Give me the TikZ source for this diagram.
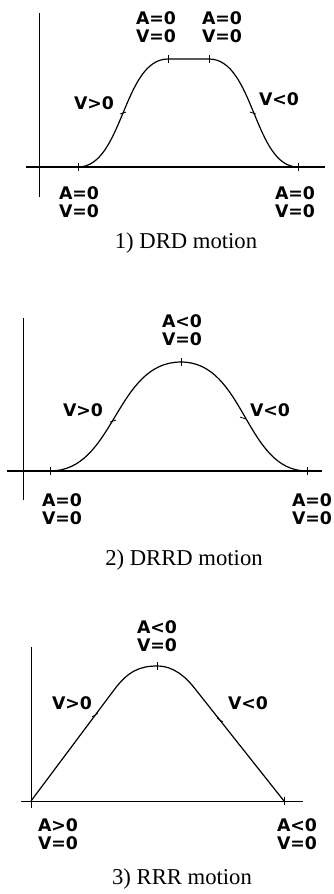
\documentclass[tikz,border=0pt]{standalone}
\usepackage{fontspec}
\setmainfont{Liberation Serif}
\newfontfamily\etifont{DejaVu Sans}
\begin{document}
\begin{tikzpicture}[x=0.75pt,y=0.75pt,
    asse/.style={line width=0.6pt},
    curva/.style={line width=0.9pt},
    tacca/.style={line width=0.6pt},
    eti/.style={font=\etifont\bfseries\fontsize{13}{13.5}\selectfont,align=center,inner sep=0pt},
    didas/.style={font=\fontsize{17}{19}\selectfont,inner sep=0pt}]
  \useasboundingbox (0,0) rectangle (334,-894);
  % ---- 1) DRD ----
  % Assi
  \draw[asse,line width=1pt] (26,-167) -- (325,-167);
  \draw[asse] (39,-13) -- (39,-197);
  % Punti
  \coordinate (a1) at (78,-167);
  \coordinate (b1) at (168,-59);
  \coordinate (c1) at (209,-59);
  \coordinate (d1) at (298,-167);
  \coordinate (e1) at (123,-113);
  \coordinate (f1) at (253,-113);
  % Curva
  \draw[curva] (a1) .. controls (123,-167) and (123,-59) .. (b1) -- (c1)
    .. controls (254,-59) and (254,-167) .. (d1);
  % Tacche
  \draw[tacca] (a1) +(0,4) -- +(0,-4);
  \draw[tacca] (b1) +(0,4) -- +(0,-4);
  \draw[tacca] (c1) +(0,4) -- +(0,-4);
  \draw[tacca] (d1) +(0,4) -- +(0,-4);
  \draw[tacca] (e1) +(-3,-1) -- +(3,1);
  \draw[tacca] (f1) +(-3,1) -- +(3,-1);
  % Etichette
  \node[eti] (l1a) at (156,-27) {A=0\\V=0};
  \node[eti] (l1b) at (222,-27) {A=0\\V=0};
  \node[eti] (l1c) at (94,-103) {V>0};
  \node[eti] (l1d) at (279,-99) {V<0};
  \node[eti] (l1e) at (79,-202) {A=0\\V=0};
  \node[eti] (l1f) at (295,-202) {A=0\\V=0};
  \node[didas] (t1) at (186,-243) {1) DRD motion};
  % ---- 2) DRRD ----
  % Assi
  \draw[asse,line width=1pt] (7,-471) -- (322,-471);
  \draw[asse] (23,-318) -- (23,-500);
  % Punti
  \coordinate (a2) at (50,-471);
  \coordinate (b2) at (181,-362);
  \coordinate (d2) at (307,-471);
  \coordinate (e2) at (113,-421);
  \coordinate (f2) at (243,-418);
  % Curva
  \draw[curva] (a2) .. controls (115,-471) and (115,-362) .. (b2)
    .. controls (245,-362) and (245,-471) .. (d2);
  % Tacche
  \draw[tacca] (a2) +(0,4) -- +(0,-4);
  \draw[tacca] (b2) +(0,4) -- +(0,-4);
  \draw[tacca] (d2) +(0,4) -- +(0,-4);
  \draw[tacca] (e2) +(-3,-1) -- +(3,1);
  \draw[tacca] (f2) +(-3,1) -- +(3,-1);
  % Etichette
  \node[eti] (l2a) at (182,-330) {A<0\\V=0};
  \node[eti] (l2b) at (83,-410) {V>0};
  \node[eti] (l2c) at (270,-410) {V<0};
  \node[eti] (l2d) at (62,-509) {A=0\\V=0};
  \node[eti] (l2e) at (312,-509) {A=0\\V=0};
  \node[didas] (t2) at (184,-560) {2) DRRD motion};
  % ---- 3) RRR ----
  % Assi
  \draw[asse] (21,-801) -- (303,-801);
  \draw[asse] (31,-647) -- (31,-808);
  % Punti
  \coordinate (a3) at (31,-801);
  \coordinate (g3) at (114,-690);
  \coordinate (b3) at (157,-666);
  \coordinate (h3) at (196,-690);
  \coordinate (d3) at (284,-801);
  \coordinate (e3) at (95,-715);
  \coordinate (f3) at (220,-720);
  % Curva
  \draw[curva] (a3) -- (g3) .. controls (128,-671) and (140,-666) .. (b3)
    .. controls (174,-666) and (186,-677) .. (h3) -- (d3);
  % Tacche
  \draw[tacca] (a3) +(0,5) -- +(0,-5);
  \draw[tacca] (b3) +(0,4) -- +(0,-4);
  \draw[tacca] (d3) +(0,4) -- +(0,-4);
  \draw[tacca] (e3) +(-3,-2) -- +(3,2);
  \draw[tacca] (f3) +(-3,2) -- +(3,-2);
  % Etichette
  \node[eti] (l3a) at (157,-636) {A<0\\V=0};
  \node[eti] (l3b) at (72,-703) {V>0};
  \node[eti] (l3c) at (248,-703) {V<0};
  \node[eti] (l3d) at (58,-834) {A>0\\V=0};
  \node[eti] (l3e) at (297,-834) {A<0\\V=0};
  \node[didas] (t3) at (182,-879) {3) RRR motion};
\end{tikzpicture}
\end{document}
